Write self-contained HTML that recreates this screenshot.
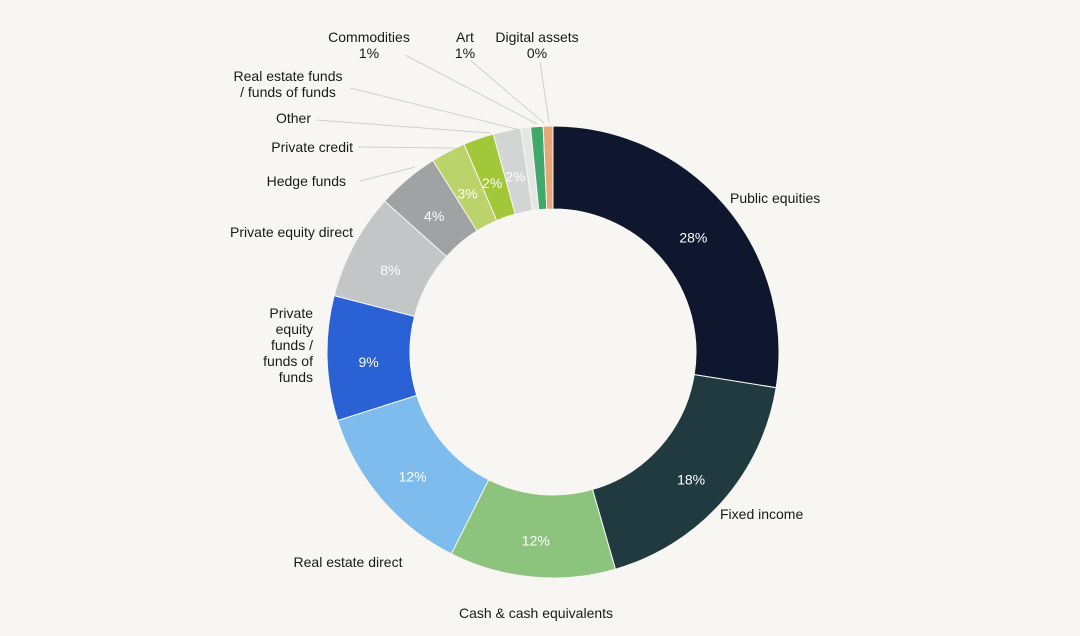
<!DOCTYPE html>
<html><head><meta charset="utf-8"><style>
body{margin:0;background:#f7f6f2;}
svg{display:block;font-family:"Liberation Sans",sans-serif;}
</style></head><body>
<svg id="c" width="1080" height="636">
<rect width="1080" height="636" fill="#f7f6f2"/>
</svg>
<script>
const categories=["Public equities","Fixed income","Cash & cash equivalents","Real estate direct","Private equity funds / funds of funds","Private equity direct","Hedge funds","Private credit","Other","Real estate funds / funds of funds","Commodities","Art","Digital assets"];
const values=[27.8,18.2,12,12.8,9,7.7,4.5,2.5,2.2,2.0,0.7,0.9,0.7];
const pctLabels=["28%","18%","12%","12%","9%","8%","4%","3%","2%","2%","","",""];
const colors=["#0f172e","#213a40","#8dc47d","#7dbcec","#2a62d6","#c3c6c7","#9fa3a3","#bcd36c","#a2c83a","#d3d5d5","#e4e6e4","#3fa86a","#e8a77a"];
const cx=553,cy=352,R=226,r=143;
const svg=document.getElementById('c'),NS="http://www.w3.org/2000/svg";
const total=values.reduce((a,b)=>a+b,0);
function pt(a,rad){return [cx+rad*Math.sin(a),cy-rad*Math.cos(a)];}
let acc=0;
values.forEach((v,i)=>{
 const a0=acc/total*2*Math.PI;acc+=v;const a1=acc/total*2*Math.PI;
 const [x0,y0]=pt(a0,R),[x1,y1]=pt(a1,R),[x2,y2]=pt(a1,r),[x3,y3]=pt(a0,r);
 const lg=(a1-a0)>Math.PI?1:0;
 const p=document.createElementNS(NS,'path');
 p.setAttribute('d',`M${x0},${y0}A${R},${R} 0 ${lg} 1 ${x1},${y1}L${x2},${y2}A${r},${r} 0 ${lg} 0 ${x3},${y3}Z`);
 p.setAttribute('fill',colors[i]);p.setAttribute('stroke','#f7f6f2');p.setAttribute('stroke-width','1');
 
 
 svg.appendChild(p);
 if(pctLabels[i]){
  const [tx,ty]=pt((a0+a1)/2,(R+r)/2);
  const t=document.createElementNS(NS,'text');
  t.setAttribute('x',tx);t.setAttribute('y',ty+10);t.setAttribute('text-anchor','middle');
  t.setAttribute('fill','#ffffff');t.setAttribute('font-size','14');t.textContent=pctLabels[i];
  
  
  svg.appendChild(t);
 }
});
const outer=[
 [["Public equities"],730,203,"start"],
 [["Fixed income"],720,519,"start"],
 [["Cash & cash equivalents"],536,618,"middle"],
 [["Real estate direct"],348,567,"middle"],
 [["Private","equity","funds /","funds of","funds"],313,318,"end"],
 [["Private equity direct"],353,237,"end"],
 [["Hedge funds"],346,186,"end",[360,181,415,167]],
 [["Private credit"],353,152,"end",[358,147,455,148]],
 [["Other"],311,123,"end",[316,120,490,133]],
 [["Real estate funds","/ funds of funds"],288,81,"middle",[350,88,520,130]],
 [["Commodities","1%"],369,42,"middle",[405,55,537,124]],
 [["Art","1%"],465,42,"middle",[470,60,544,123]],
 [["Digital assets","0%"],537,42,"middle",[540,62,549,122]]
];
outer.forEach((o,i)=>{
 if(o[4]){const l=document.createElementNS(NS,'line');
  l.setAttribute('x1',o[4][0]);l.setAttribute('y1',o[4][1]);l.setAttribute('x2',o[4][2]);l.setAttribute('y2',o[4][3]);
  l.setAttribute('stroke','#d0d0cc');l.setAttribute('stroke-width','1');
  
  
  svg.appendChild(l);}
 const t=document.createElementNS(NS,'text');
 t.setAttribute('x',o[1]);t.setAttribute('y',o[2]);t.setAttribute('text-anchor',o[3]);
 t.setAttribute('fill','#1a1a1a');t.setAttribute('font-size','14');
 o[0].forEach((s,j)=>{const ts=document.createElementNS(NS,'tspan');ts.setAttribute('x',o[1]);ts.setAttribute('dy',j?16:0);ts.textContent=s;t.appendChild(ts);});
 
 
 svg.appendChild(t);
});
</script>
</body></html>
